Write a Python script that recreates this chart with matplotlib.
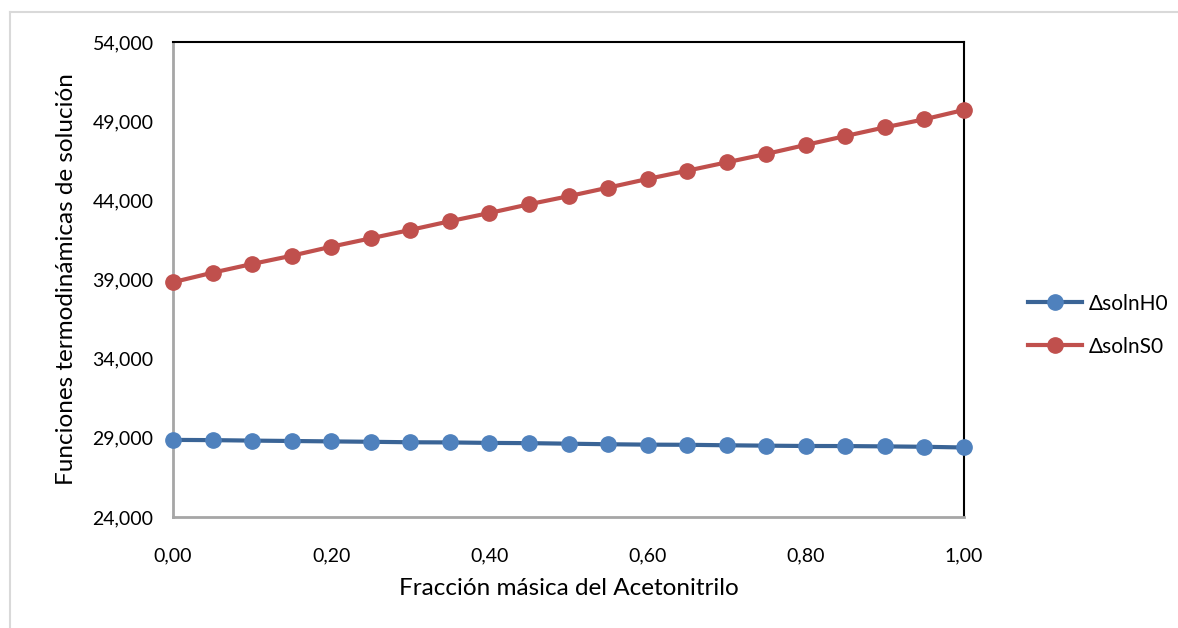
import matplotlib
matplotlib.use("Agg")
import matplotlib.pyplot as plt
from matplotlib.lines import Line2D
from matplotlib.ticker import FuncFormatter

plt.rcParams["font.family"] = ["Lato", "DejaVu Sans"]

fraccion = [0.00, 0.05, 0.10, 0.15, 0.20, 0.25, 0.30, 0.35, 0.40, 0.45, 0.50,
            0.55, 0.60, 0.65, 0.70, 0.75, 0.80, 0.85, 0.90, 0.95, 1.00]
entalpia = [28870, 28855, 28825, 28800, 28775, 28750, 28720, 28710, 28680, 28665, 28630,
            28595, 28570, 28560, 28530, 28505, 28485, 28480, 28460, 28435, 28390]
entropia = [38830, 39430, 39980, 40500, 41070, 41600, 42130, 42680, 43200, 43750, 44260,
            44800, 45350, 45870, 46400, 46930, 47500, 48060, 48610, 49120, 49710]
series_names = ["ΔsolnH0", "ΔsolnS0"]
y_ticks = [24000, 29000, 34000, 39000, 44000, 49000, 54000]
x_ticks = [0.0, 0.2, 0.4, 0.6, 0.8, 1.0]

W, H = 1178, 628
fig = plt.figure(figsize=(W / 100, H / 100), dpi=100)

# light chart-area border (left and top edges)
fig.add_artist(Line2D([10 / W, 10 / W], [0, 1 - 12 / H], transform=fig.transFigure,
                      color="#d9d9d9", lw=1.5))
fig.add_artist(Line2D([10 / W, 1], [1 - 12 / H, 1 - 12 / H], transform=fig.transFigure,
                      color="#d9d9d9", lw=1.5))

ax = fig.add_axes([173 / W, 1 - 517 / H, (964 - 173) / W, (517 - 42) / H])

blue = "#4f81bd"
blue_line = "#3a6496"
red = "#c0504d"

ax.plot(fraccion, entalpia, color=blue_line, lw=3, marker="o", ms=11,
        markerfacecolor=blue, markeredgecolor=blue, label=series_names[0], zorder=3,
        clip_on=False)
ax.plot(fraccion, entropia, color=red, lw=3, marker="o", ms=11,
        markerfacecolor=red, markeredgecolor=red, label=series_names[1], zorder=3,
        clip_on=False)

ax.set_xlim(0, 1)
ax.set_ylim(24000, 54000)
ax.set_xticks(x_ticks)
ax.set_yticks(y_ticks)
ax.xaxis.set_major_formatter(FuncFormatter(lambda v, p: f"{v:.2f}".replace(".", ",")))
ax.yaxis.set_major_formatter(FuncFormatter(lambda v, p: f"{int(v):,}"))
ax.tick_params(length=0, labelsize=14, colors="black")
ax.tick_params(axis="x", pad=22)
ax.tick_params(axis="y", pad=14)

for side in ["top", "right"]:
    ax.spines[side].set_color("black")
    ax.spines[side].set_linewidth(1.5)
for side in ["left", "bottom"]:
    ax.spines[side].set_color("#a6a6a6")
    ax.spines[side].set_linewidth(2)

ax.set_xlabel("Fracción másica del Acetonitrilo", fontsize=17.5, labelpad=10)
ax.set_ylabel("Funciones termodinámicas de solución", fontsize=17.5, labelpad=11)

leg = ax.legend(loc="center left", bbox_to_anchor=(1.057, 0.404), frameon=False,
                fontsize=15, handlelength=2.6, labelspacing=1.1, handletextpad=0.3)

fig.savefig("out.png", dpi=100, facecolor="white")
